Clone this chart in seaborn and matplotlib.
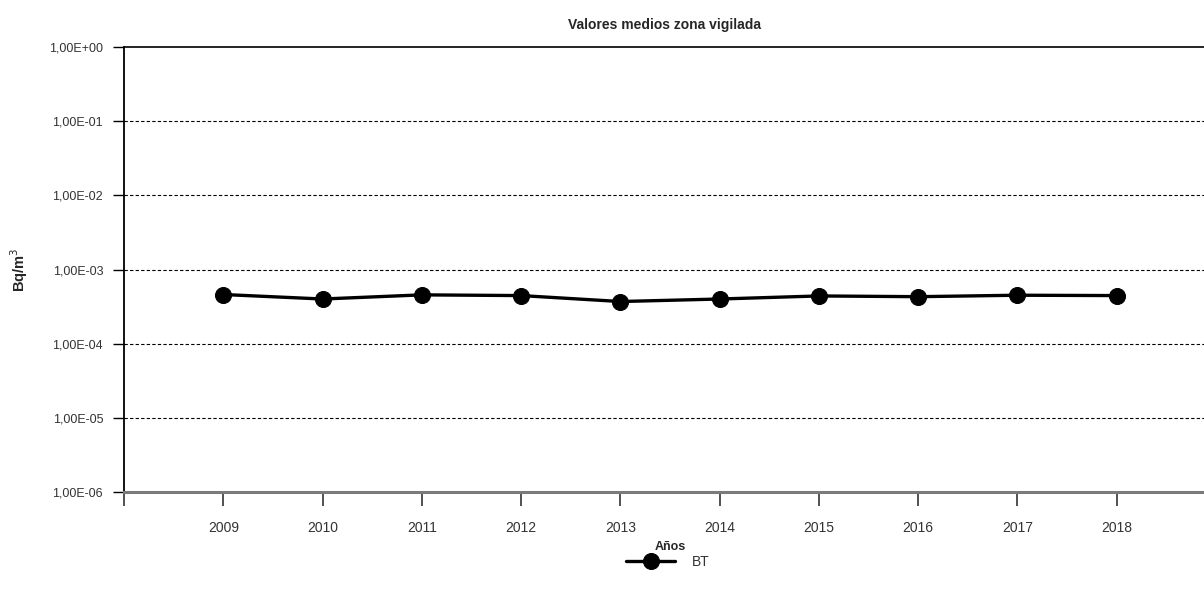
import matplotlib
matplotlib.use("Agg")
import matplotlib.pyplot as plt
import matplotlib.ticker as mticker
import seaborn as sns
import pandas as pd

years = [2009, 2010, 2011, 2012, 2013, 2014, 2015, 2016, 2017, 2018]
bt = [4.6e-4, 4.0e-4, 4.55e-4, 4.45e-4, 3.7e-4, 4.0e-4, 4.4e-4, 4.3e-4, 4.5e-4, 4.45e-4]
ytick_labels = ["1,00E-06", "1,00E-05", "1,00E-04", "1,00E-03", "1,00E-02", "1,00E-01", "1,00E+00"]

sns.set_theme(style="white")
plt.rcParams["font.family"] = ["Liberation Sans", "DejaVu Sans"]

df = pd.DataFrame({"Año": years, "BT": bt})

fig = plt.figure(figsize=(12.04, 5.94), dpi=100)
ax = fig.add_axes([124 / 1204, 1 - 492 / 594, 1 - 124 / 1204, (492 - 47) / 594])

sns.lineplot(data=df, x="Año", y="BT", ax=ax, color="black", linewidth=2.4,
             marker="o", markersize=11.5, markeredgecolor="black", label="BT")

ax.set_yscale("log")
ax.set_ylim(1e-6, 1e0)
ax.set_xlim(2008, 2018.88)

yt = [10.0 ** e for e in range(-6, 1)]
ax.yaxis.set_major_locator(mticker.FixedLocator(yt))
ax.yaxis.set_minor_locator(mticker.NullLocator())
ax.set_yticklabels(ytick_labels)
for v in yt[1:-1]:
    ax.axhline(v, color="black", linewidth=0.8, linestyle=(0, (3, 2)), zorder=0)
ax.axhline(1e0, color="black", linewidth=1.2, zorder=1, clip_on=False)

ax.set_xticks([2008] + years)
ax.set_xticklabels([""] + [str(y) for y in years])

ax.tick_params(axis="y", which="major", direction="out", length=8, width=1,
               color="black", labelsize=9, labelcolor="#333333", pad=7, left=True)
ax.tick_params(axis="x", which="major", direction="out", length=10, width=1.2,
               color="#333333", labelsize=10, labelcolor="#333333", pad=11, bottom=True)

for side in ["top", "right"]:
    ax.spines[side].set_visible(False)
ax.spines["left"].set_color("black")
ax.spines["left"].set_linewidth(1.3)
ax.spines["bottom"].set_color("#7a7a7a")
ax.spines["bottom"].set_linewidth(2.2)

ax.set_xlabel("Años", fontsize=9, fontweight="bold")
ax.xaxis.set_label_coords((670 - 124) / 1080, (492 - 541) / 445)
ax.set_ylabel("Bq/m$^3$", fontsize=10.5, fontweight="bold")
ax.yaxis.set_label_coords((30 - 124) / 1080, 0.5)
ax.set_title("Valores medios zona vigilada", fontsize=10, fontweight="bold", pad=13,
             x=(665 - 124) / 1080)

leg = ax.legend(loc="center", bbox_to_anchor=((668 - 124) / 1080, (492 - 562) / 445),
                frameon=False, fontsize=10, handlelength=3.5, handletextpad=1.2,
                markerscale=1.0)
for t in leg.get_texts():
    t.set_color("#333333")

fig.savefig("out.png", dpi=100)
